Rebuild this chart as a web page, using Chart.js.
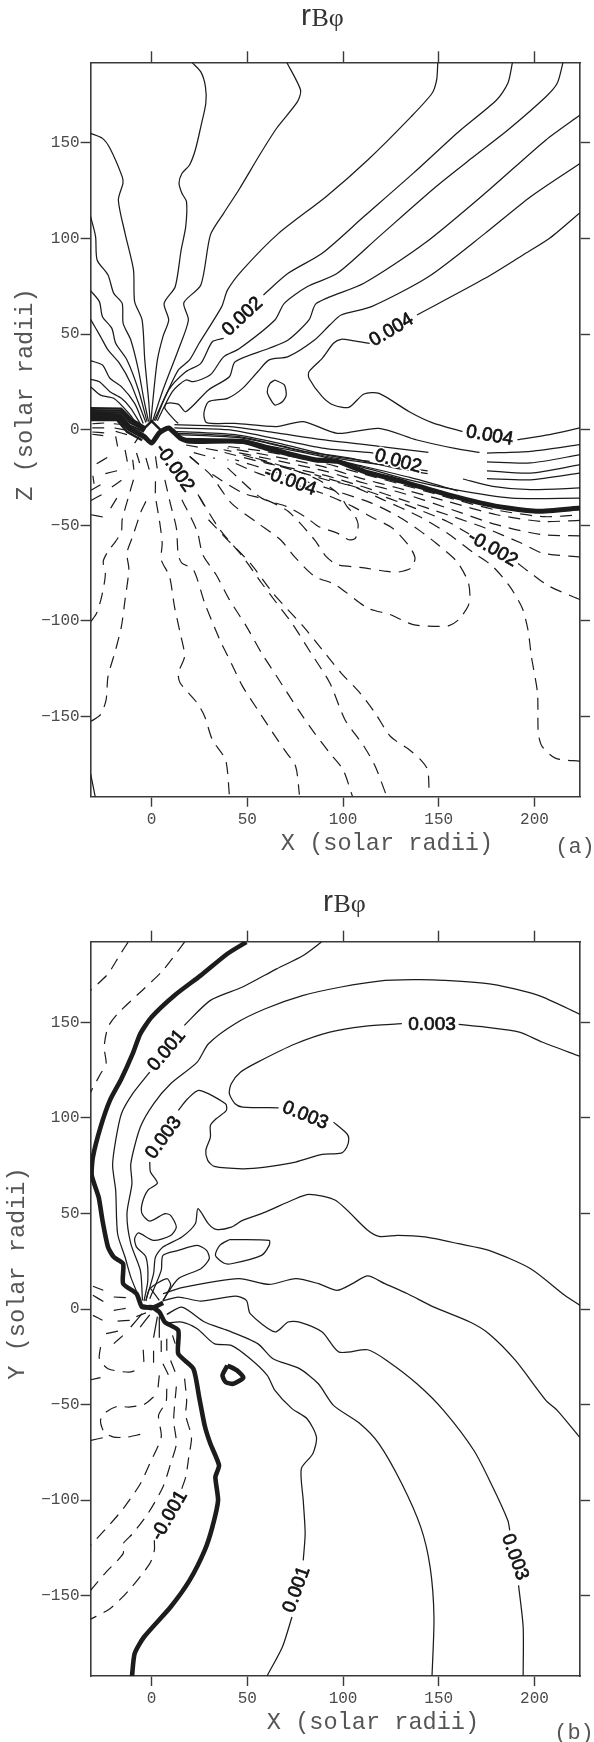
<!DOCTYPE html>
<html><head><meta charset="utf-8">
<style>html,body{margin:0;padding:0;background:#fff;width:594px;height:1742px;overflow:hidden}canvas{position:absolute;left:0}</style>
<script src="https://cdn.jsdelivr.net/npm/chart.js@4/dist/chart.umd.min.js"></script>
</head><body>
<canvas id="ca" width="594" height="880" style="top:0"></canvas>
<canvas id="cb" width="594" height="862" style="top:880px"></canvas>
<script>
/* ---------- panel (a): X-Z plane, contour lines in solar radii ---------- */
const a1=[[21.2,192],[25.7,187.2],[28.1,179.5],[28.3,170.8],[25.7,158.6],[22.8,146.3],[19.8,138.5],[15.8,134],[14.3,128.9],[15.8,123.7],[18.2,119.3],[17.8,106.2],[15.4,94],[12.3,74.8],[6.5,66.1],[8.9,57.4],[5.9,48.7],[3,36.5],[1,19],[-0.4,4.2]];
const a2=[[-31.9,155],[-25.7,152.4],[-21.8,147.2],[-15.4,132.4],[-15,128.9],[-17.4,120.2],[-13.9,102.7],[-9.5,83.6],[-8.9,67],[-5,57.4],[-3.6,36.5],[-1.6,15.5],[-0.8,4.2]];
const a3=[[-31.9,111.5],[-29.3,101],[-28.5,88.8],[-22.8,80.9],[-19.8,71.3],[-15.4,66.1],[-14.9,55.6],[-10.9,46.9],[-6.9,31.2],[-4,15.5],[-1.6,4.2]];
const a4=[[-31.9,72.7],[-27.3,67],[-25.7,59.1],[-20.8,53],[-18.8,45.2],[-12.9,36.5],[-6.9,20.8],[-2.4,4.2]];
const a5=[[-31.9,57.7],[-26.7,48.7],[-22.8,41.7],[-16.8,34.7],[-10.9,24.2],[-5.5,10.3],[-3,3.7]];
const a6=[[-31.9,36.1],[-25.7,33.8],[-21.8,26.9],[-15.8,22.5],[-8.9,13.8],[-4.4,3.3]];
const a7=[[-31.9,26.3],[-27.3,25.1],[-21.8,19.9],[-15.8,16.4],[-10.9,11.2],[-5.5,2.4]];
const a8=[[-31.9,22.5],[-26.7,18.1],[-19.8,16.4],[-11.9,8.5],[-6.9,1.9]];
const b1=[[70.7,192],[77.8,177.7],[76.2,171.6],[65.3,157.7],[56.4,143.7],[45.5,125.4],[37.6,113.2],[30.7,101.9],[25.7,75.7],[16.8,66.4],[19.2,57.4],[13.9,41.7],[5.9,20.8],[0.4,4.2]];
const b2=[[149.5,192],[148.9,183],[146.5,176],[135.6,163.8],[112.9,141.1],[91.1,121.9],[66.3,102.7],[47.5,83.6],[39.6,73],[36.6,64.4],[24.8,45.2],[19.8,36.5],[13.9,31.2],[7.9,19],[1.2,4.7]];
const b3u=[[188.5,192],[186.1,181.2],[180.2,172.5],[160.4,155.9],[136.6,134.1],[110.9,111.5],[89.1,92.3],[71.3,81.8],[58.4,70.5]];
const b3l=[[37.6,47.8],[31.7,46],[25.7,34.7],[17.8,30.3],[8.9,20.8],[2,4.7]];
const b4=[[214.9,192],[211.9,181.2],[206,174.2],[186.1,156.8],[168.3,142.9],[148.5,127.1],[118.8,101],[97,81.8],[81.2,74.8],[69.3,66.1],[64.4,57.4],[45.5,42.2],[37.6,38.1],[30.7,28.7],[21.8,25.1],[17.8,26],[10.9,20],[3,4.7]];
const b5=[[223.8,164.6],[206,151.6],[176.2,125.4],[142.6,97.5],[110.9,76.6],[86.1,66.1],[82.2,57.4],[71.3,46.9],[61.4,42.6],[43.6,35.6],[40.6,27.7],[29.7,20.8],[17.8,9.4],[13.9,13.4],[7.9,13.8],[6.9,11.2],[11.9,5.1],[13.9,3.3]];
const c0a=[[223.8,113.5],[207.9,100.1],[194,91.4],[174.2,79.2],[138.6,60]];
const c0b=[[113.9,45.2],[104.9,46.6],[99,47.3],[95,45.2],[89.1,37.3],[82.2,30.3],[82.2,26.9],[89.1,17.3],[95,12.9],[103,11.7],[110.9,18.7],[118.8,19],[134.6,9.4],[146.5,3.7],[162.4,-1]];
const c0c=[[191.1,-5.2],[207.9,-2.6],[223.8,0.9]];
const isle=[[64.4,26],[69.3,23.4],[70.3,18.1],[68.3,14.6],[64.4,12.9],[61.8,16.4],[60.4,19.9],[61.8,24.2],[64.4,26]];
const c1a=[[223.8,139.3],[198,121.9],[174.2,102.7],[144.6,80],[114.9,64.4],[99,60],[93.1,54.8],[85.1,46.9],[71.3,38.2],[61.4,36.5],[55.4,30.3],[47.5,21.6],[39.6,16.4],[29.7,14.6],[27.3,8.5],[28.7,3.7],[43.6,3.3],[65.3,1.6],[79.2,4.2],[97,-1.9],[118.8,0.7],[138.6,-5.4],[158.4,-9.8],[171.3,-11.9]];
const c1b=[[175.2,-12.2],[198,-11.3],[223.8,-7.8]];
const c2a=[[11.9,2.6],[39.6,1.7],[63.4,-1.4],[89.1,-5.2],[118.8,-8.7],[144.6,-11.9]];
const c2b=[[175.2,-16.9],[198,-17.4],[223.8,-13.1]];
const c3a=[[11.9,0.9],[39.6,0],[63.4,-4.4],[89.1,-9.6],[115.8,-12.2]];
const c3b=[[175.2,-21.5],[198,-22.7],[223.8,-18.3]];
const c4a=[[11.9,-0.9],[43.6,-2.6],[69.3,-7.8],[95,-14],[113.9,-16.6]];
const c4b=[[175.2,-25.6],[198,-26.2],[223.8,-22.7]];
const c4c=[[12,-1.8],[45,-3.5],[72,-9.5],[96,-14.9],[125,-19],[144.2,-21.5]];
const c5a=[[13.9,-2.6],[47.5,-4.4],[79.2,-11.3],[103,-14.8],[126.7,-20],[144.2,-23]];
const c5b=[[162.6,-25.8],[178.2,-29.6],[198,-31.4],[223.8,-30.5]];
const c6=[[15.8,-4.4],[51.5,-6.1],[79.2,-14],[105,-18.3],[130.7,-25.3],[158.4,-31.4],[188.1,-35.8],[223.8,-35.8]];
const c6b=[[25,-5],[60,-8.5],[85,-13.2],[110,-19],[135,-25],[160,-32]];
const band1=[[-31.9,11.3],[-16,11],[-10.5,5.5],[-3,1]];
const band2=[[-31.9,10.2],[-15.5,10],[-10.5,4.5],[-3.2,0.4]];
const band3=[[-31.9,9.2],[-16,9],[-11,3.5],[-3.5,-0.2]];
const band4=[[-31.9,8.2],[-16.5,8],[-11.5,2.2],[-4,-1]];
const band5=[[-31.9,6],[-17.5,6],[-12,0],[-4,-4.5]];
const band6=[[-31.9,5],[-18,5],[-13,-1],[-5,-5.5]];
const rim=[[-4.8,-0.2],[0,4.5],[5,-0.5]];
const zeroA=[[-31.9,7],[-17.8,7],[-11.9,0.9],[-4,-3.5],[0,-7],[4,-1.7],[8.9,0.9],[14.9,-4.4],[19.8,-6.1],[47.5,-6.1],[59.4,-9.6],[85.1,-15.7],[97,-16.6],[110.9,-21.8],[130.7,-27],[154.5,-34],[172.3,-38.4],[186.1,-41],[202,-42.7],[223.8,-41]];
const s1=[[-31,3.1],[-24.8,3.5]],s2=[[-31,0.9],[-24.8,0.9]],s3=[[-31,-1.2],[-24.8,-1.7]],s4=[[-31,-2.4],[-25.3,-3.1]];
const s5=[[-19.8,3.1],[-13.9,2.6]],s6=[[-19.4,0.9],[-12.9,-0.3]],s7=[[-18.8,-0.9],[-12.9,-2.6]],s8=[[-18.8,-3.5],[-17.8,-8.7]];
const s9=[[-13.9,-10.5],[-11.9,-20.9]],s10=[[-7.9,-12.2],[-6.3,-17.4]],s11=[[-9.9,-15.7],[-9.3,-20.9]],s12=[[-3,-14.8],[-1,-21.8]],s13=[[2,-14],[3,-20.9]],s14=[[-8.9,-7],[-5.9,-2.6]];
const s15=[[-28.7,-17.8],[-22.8,-14.3]],s16=[[-24.2,-23],[-17.4,-21.3]],s17=[[-30.7,-24.1],[-30.1,-28.3]],s18=[[-31.7,-31.7],[-26.7,-28.8]],s19=[[-31.7,-37],[-26.1,-34]],s20=[[-31.7,-44.5],[-25.3,-45.7]];
const s21=[[-20.8,-30],[-15.8,-26.5]],s22=[[-21.4,-41],[-18.2,-35.8]],s23=[[20,-14],[24.8,-18.3]],s24=[[18,-8],[35,-11]],s25=[[22,-12],[33,-15]];
const f1=[[-9.5,-26.2],[-12.3,-35.8],[-15.4,-47.1],[-15.8,-53.2],[-18.8,-58.4],[-22.8,-63.7],[-25.3,-68.9],[-24.2,-75.9],[-26.1,-87.2],[-28.7,-95.9],[-31.7,-100.3]];
const f2=[[-3,-37.5],[-5.5,-42.7],[-9.9,-55.8],[-12.9,-64.5],[-11.9,-73.2],[-13.9,-88.9],[-15.8,-102.9],[-18.8,-115.1],[-22.8,-129.1],[-23.8,-141.3],[-26.7,-149.1],[-31.7,-152.6]];
const f3=[[2,-27],[2,-34.9],[4,-47.1],[5.5,-59.3],[5,-68],[9.3,-76.7],[11.9,-92.4],[14.9,-106.4],[17.2,-118.6],[13.9,-127.3],[14.9,-132.5],[23.8,-143],[27.7,-150],[31.7,-162.2],[38.6,-172.7],[40.6,-191]];
const f4=[[6.9,-26.2],[9.9,-39.2],[12.9,-51.4],[13.9,-65.4],[15.8,-69.8],[21.8,-73.2],[27.7,-90.7],[35.6,-109.9],[41.6,-122.1],[47.5,-134.3],[55.4,-146.5],[63.4,-158.7],[69.3,-167.4],[75.2,-176.1],[77.2,-190.9]];
const f5=[[15.8,-36.6],[23.8,-53.2],[26.7,-65.4],[33.7,-75.9],[40.6,-88.9],[49.5,-102.9],[57.4,-116.8],[65.3,-129],[77.2,-147.4],[85.1,-158.7],[93.1,-169.2],[100,-177.9],[104.9,-191.8]];
const f6=[[24.8,-34.9],[35.6,-52.3],[47.5,-66.3],[57.4,-80.2],[65.3,-90.7],[73.3,-101.2],[83.2,-116.8],[93.1,-132.5],[101,-151.7],[110.9,-165.6],[116.8,-176.1],[122.8,-191.8]];
const f7=[[29.7,-47.1],[39.6,-57.6],[51.5,-69.8],[63.4,-85.5],[79.2,-102.9],[89.1,-115.1],[99,-127.3],[108.9,-137.8],[116.8,-148.3],[124.8,-160.5],[134.6,-167.4],[140.6,-172.7],[144.2,-177.9],[145,-191]];
const f8=[[13.9,-15.7],[19.8,-26.2],[27.7,-40.1]];
const g1=[[19.8,-14],[30.7,-23.5],[41.6,-38.4],[55.4,-48.8],[67.3,-57.6],[75.2,-67.1],[85.1,-76.7],[96,-81.1],[112.9,-93.3],[124.8,-96.8],[136.6,-102],[148.5,-102.9],[155.4,-102.5],[160.4,-99.4],[165.3,-92.4],[166.3,-87.2],[165.3,-79.4],[159.4,-68.9],[148.5,-59.3],[140.6,-53.2],[128.7,-45.3],[114.9,-38.4],[97,-32.3],[83.2,-27.9],[63.4,-21.8],[43.6,-15.7]];
const g2=[[31.7,-23.5],[47.5,-33.1],[59.4,-36.6],[71.3,-42.7],[85.1,-57.6],[91.1,-66.3],[97,-70.6],[108.9,-72],[122.8,-74.1],[128.7,-74.5],[135.6,-72.4],[137.6,-67.1],[134.6,-61],[125.7,-51.4],[115.8,-46.2],[104.9,-40.1],[91.1,-34],[75.2,-28.8],[55.4,-22.7],[39.6,-15.7]];
const g3=[[39.6,-20],[57.4,-35.8],[70.3,-40.1],[81.2,-46.2],[87.1,-50.6],[97,-54.1],[103,-57.6],[106.5,-56.7],[107.9,-49.7],[105.9,-44.5],[102,-40.1],[98,-34],[87.1,-26.2],[71.3,-20],[51.5,-14]];
const h0=[[40,-8.8],[60,-11.5],[90,-17.5],[110,-23],[130,-28.5],[155,-35.5],[180,-42],[205,-45.5],[223.8,-44.5]];
const h1=[[223.8,-47.4],[204,-48],[180.2,-44.5],[154.5,-37.5],[128.7,-30.5],[108.9,-25.3],[89.1,-19.2],[59.4,-13.1],[39.6,-9.6]];
const h2=[[223.8,-55.5],[204,-54.9],[180.2,-49.7],[154.5,-41],[130.7,-33.1],[110.9,-27.9],[91.1,-21.8],[63.4,-15.7],[37.6,-10.5]];
const h3=[[223.8,-66.6],[204,-64.5],[193,-59.3],[174.2,-51.4],[154.5,-44.5],[130.7,-36.6],[110.9,-30],[89.1,-23.5],[59.4,-17.4],[35.6,-11.3]];
const h4r=[[223.8,-88.9],[207.9,-82],[198,-75],[191.1,-69.8]];
const h4l=[[166.3,-54.9],[154.5,-48],[132.7,-39.2],[115.8,-33.1],[97,-27],[85.1,-23.5]];
const h5=[[223.8,-173.5],[210.9,-171.8],[204,-165.7],[202,-158.7],[201.6,-137.8],[198.4,-118.6],[196.6,-104.6],[193.6,-93.3],[187.1,-82],[178.2,-71.5],[168.3,-64.5],[154.4,-54.1],[139.6,-45.3],[120.8,-36.6],[104.9,-29.6],[91.1,-26.2],[67.3,-19.2],[47.5,-13.1]];
const corner=[[-31.9,-180],[-29.5,-192]];

/* ---------- panel (b): X-Y plane ---------- */
const zeroB=[[49.5,192],[39.6,185.9],[25.7,174.6],[11.9,164.1],[0,152.8],[-5.9,144.1],[-9.9,133.6],[-15.8,120.5],[-21.8,109.2],[-26.7,95.2],[-30.7,79.5],[-31.3,69.9],[-27.7,58.6],[-25.7,46.4],[-22.8,32.4],[-19.8,27.2],[-14.9,23.7],[-14.9,13.3],[-7.9,8],[-5,1],[0,1],[4,-1.6],[6.9,-6.8],[13.9,-11.2],[13.9,-23.4],[21.8,-31.2],[24.8,-46],[27.7,-60.9],[30.7,-70.5],[35.2,-81.8],[33.3,-87.9],[34.7,-100.1],[31.7,-114.1],[27.7,-126.3],[19.8,-142],[9.9,-155.9],[-4,-171.6],[-8.9,-180.3],[-10.3,-192.5]];
const zeroB2=[[-5,1.5],[0,0.5],[6,3.2]];
const ring=[[39.6,-29.5],[44.6,-32.1],[47.9,-35.9],[42.6,-39.1],[38.6,-38.2],[37,-34.7],[39.6,-29.5]];
const p1a=[[88.7,192],[79.2,185],[65.3,178],[47.5,168.5],[30.7,161.5],[17,148.4]];
const p1b=[[-1,124],[-9.9,112.7],[-15.8,102.2],[-18.8,88.2],[-20.4,75.2],[-18.8,62.1],[-17.8,39.4],[-13.9,27.2],[-10.9,16.7],[-5.9,4.5]];
const p2=[[223.8,154.2],[202,164.1],[178.2,169.9],[152.5,172],[136.6,172.3],[118.8,171.6],[99,168.5],[79.2,164.1],[59.4,157.1],[43.6,149.3],[29.7,138.8],[23.8,129.2],[9.9,117.9],[1,107.4],[-5.9,95.2],[-10.9,76],[-10.3,65.6],[-12.9,49.9],[-10.9,34.2],[-5.9,20.2],[-4.8,4.5]];
const p3a=[[223.8,132.2],[204,139.7],[192.1,144.9],[174.3,147.5],[160.4,148.9]];
const p3b=[[130.7,149.3],[110.9,147.9],[93.1,144.9],[75.2,138.8],[55.4,129.2],[46.5,124],[41.6,117.9],[40.6,112.7],[43.6,107.4],[47.5,105.7],[66.3,105.3]];
const p3c=[[95,97.8],[102,91.7],[103,89.1],[102,84.8],[99,81.6],[89.1,80.9],[75.2,76.9],[59.4,74.3],[47.5,73.4],[32.7,74.6],[29.3,77.8],[28.3,83],[30.7,90],[30.7,96.1],[33.7,99.6],[39,103.9],[38.6,107.4],[24.8,114.4],[18.8,110],[13.9,103.9]];
const p3d=[[-1,76.9],[-0.6,71.7],[3,65.9],[-2,62.1],[-5,55.1],[-5,49.9],[-1,46],[6.9,49.9],[9.9,49],[12.9,42.9],[9.9,38.5],[1,35.9],[-6.9,39.8],[-8.9,36.8],[-7.9,32.4],[-3,27.2],[-2,15],[-4,4.2]];
const p4=[[223.8,1.9],[215.8,7.2],[198,21.1],[176.2,30.7],[160.4,34.2],[142.6,37.7],[128.7,38.5],[118.8,38],[112.9,41.2],[96,56.9],[82.2,60],[73.3,56.9],[59.4,50.7],[47.5,46.4],[41.6,42.9],[33.7,41.7],[29.7,44.6],[24.2,52.5],[22.8,44.6],[15.8,37.7],[5.9,32.4],[2,27.2],[1,18.5],[-3,4.5]];
const p5=[[5.9,4.5],[13.9,15.9],[25.7,21.1],[30.1,26.3],[28.7,30.7],[23.8,33.3],[13.9,30.7],[5.9,28.1],[5,20.2],[-1,5.4]];
const p6=[[40.6,36.3],[61.4,35.9],[61.4,33.3],[57.4,28.1],[41.6,23.7],[37.6,24.1],[33.3,28.1],[35.6,33.3],[40.6,36.3]];
const p7=[[-3,4.2],[-1,10.6],[7.9,15.9],[9.9,12.4],[5.9,4.2]];
const p7b=[[-0.4,10.6],[4,4.5]];
const p8=[[5.9,8],[15.8,11.2],[45.5,15.9],[61.4,12.9],[75.2,15.9],[87.1,13.3],[97,9.8],[104.9,13.3],[112.9,17.3],[121.8,13.3],[133.7,8],[147.5,1],[166.3,-6.8],[176.2,-12.9],[190.1,-26.9],[206,-47.8],[211.9,-53],[223.8,-67.3]];
const p9a=[[5.9,4.2],[13.9,6.3],[25.7,4.2],[43.6,6.8],[49.5,4.5],[51.5,-2.4],[64.4,-12],[71.3,-6.8],[77.2,-6.8],[89.1,-12],[97.9,-22.5],[112.9,-21.3],[122.8,-26.9],[138.6,-39.1],[152.5,-53],[168.3,-73.9],[178.2,-93.1],[186.1,-110.6],[187.1,-115.8]];
const p9b=[[191.7,-144.6],[194.1,-166.4],[194.1,-191.7]];
const p10=[[7.9,-2.8],[15.8,1],[27.7,-6.8],[39.6,-11.2],[55.4,-18.1],[63.4,-26],[77.2,-31.2],[87.1,-39.1],[95,-50.4],[108.9,-60],[118.8,-70.5],[130.7,-91.4],[140.6,-114.1],[145.5,-135],[147.5,-161.1],[146.5,-191.7]];
const p11a=[[7.9,-7.3],[15.8,-6.8],[23.8,-10.3],[32.7,-18.1],[41.6,-19],[51.5,-26],[60.4,-34.7],[64.4,-42.6],[73.3,-52.1],[81.2,-57.4],[86.1,-67],[84.2,-75.7],[78.2,-83.5],[79.2,-100.1],[80.2,-117.5],[79.2,-131.5]];
const p11b=[[73.3,-161.1],[68.3,-176.8],[60.4,-191.7]];
const fine1=[[-10.9,-9.4],[-5,-2.4]],fine2=[[1,-15],[3,-4]],fine3=[[4,-15],[4,-4]],fine4=[[-6,-9.5],[-1,-3]],fine5=[[-8,-4],[-3,-2]];
const d1=[[-12.3,192],[-16.8,185],[-22.8,175.4],[-31.9,166.7]];
const d2=[[17.2,192],[5.9,177.2],[-4,167.6],[-17.8,154.5],[-22.8,147.5],[-24.8,137.1],[-23.8,128.4],[-26.7,123.1],[-31.9,113.5]];
const t1=[[-30.7,11.9],[-25.3,9.8]],t2=[[-30.7,7.2],[-24.8,3.7]],t3=[[-19.8,6.3],[-12.9,5.9]],t4=[[-19.8,-0.7],[-12.9,0.5]],t5=[[-30.7,-3.3],[-25.7,-5.9]];
const t6=[[-17.8,-6.3],[-10.9,-5.9]],t7=[[-23.8,-12.9],[-17.4,-11.5]],t8=[[-19.8,-18.1],[-14.9,-13.8]],t9=[[-31.7,-37],[-26.7,-35.9]],t10=[[-31.7,-68.7],[-25.3,-67.3]];
const t11=[[-4.4,-21.3],[-4,-28.6]],t12=[[1,-21.8],[1,-28.6]],t13=[[5,-16.4],[5,-22.5]],t14=[[7.9,-15.5],[7.9,-22.5]],t15=[[10.9,-13.8],[12.3,-18.1]],t16=[[5.9,-28.6],[8.9,-34.7]],t17=[[9.9,-26.9],[12.3,-33]],t18=[[4,-34.7],[3,-44.3]];
const lobe1=[[-26.7,-19.9],[-27.3,-26],[-22.8,-31.2],[-11.9,-33],[-5.9,-31.2]];
const lobe2=[[1,-46],[-4,-49.9],[-11.9,-51.3],[-17.8,-50.9],[-23.8,-53.9],[-26.7,-58.2],[-24.8,-64.4],[-19.8,-67],[-12.9,-67],[-5.9,-65.6]];
const r2a=[[17.2,-36.4],[18.3,-47.8],[17.8,-55.6],[20.8,-67],[19.4,-77.4],[17.8,-87.9],[15.4,-94.9]];
const r2b=[[1.4,-121],[1.4,-126.3],[-1,-133.2],[-11.9,-147.2],[-21.8,-156.8],[-31.9,-162.3]];
const r3=[[12.9,-40.5],[11.5,-58.2],[12.9,-70.5],[9.9,-80.9],[5.9,-93.1],[-2,-107.1],[-9.9,-117.5],[-14.9,-122.8],[-14.9,-128],[-23.8,-137.6],[-31.9,-147.2]];
const r4=[[7.9,-41.7],[7.5,-48.7],[3.6,-55.6],[5,-67],[-1,-80.9],[-5.9,-91.4],[-14.9,-104.5],[-23.8,-114.9],[-31.9,-123.6]];

/* ---------- contour labels: text, x, y, angle ---------- */
const labelsA=[['0.002',47.5,59.1,-43],['0.004',125.3,52.1,-31],['0.004',176.6,-3.1,10],['0.002',128.7,-16.6,15],['-0.004',72.3,-27,20],['-0.002',11.9,-20,55],['-0.002',178.2,-62.4,30]];
const labelsB=[['0.001',7.9,135.3,-50],['0.003',146.5,148.8,0],['0.003',80.2,101.3,22],['0.003',6.3,89.6,-54],['-0.001',9.3,-108,-60],['0.001',75.8,-146.8,-70],['0.003',189.7,-129.8,70]];

const xRange=[-31.9,223.8], yRange=[-192,192.2];
const tickStep=50;

const solidA=[a1,a2,a3,a4,a5,a6,a7,a8,b1,b2,b3u,b3l,b4,b5,c0a,c0b,c0c,isle,c1a,c1b,c2a,c2b,c3a,c3b,c4a,c4b,c4c,c5a,c5b,c6,c6b,corner];
const bandA=[band1,band2,band3,band4,band5,band6,rim];
const dashedA=[s1,s2,s3,s4,s5,s6,s7,s8,s9,s10,s11,s12,s13,s14,s15,s16,s17,s18,s19,s20,s21,s22,s23,s24,s25,f1,f2,f3,f4,f5,f6,f7,f8,g1,g2,g3,h0,h1,h2,h3,h4r,h4l,h5];
const solidB=[p1a,p1b,p2,p3a,p3b,p3c,p3d,p4,p5,p6,p7,p7b,p8,p9a,p9b,p10,p11a,p11b,fine1,fine2,fine3,fine4,fine5];
const dashedB=[d1,d2,t1,t2,t3,t4,t5,t6,t7,t8,t9,t10,t11,t12,t13,t14,t15,t16,t17,t18,lobe1,lobe2,r2a,r2b,r3,r4];

const INK='#1c1c1c', AXIS='#3a3a3a', TICKTXT='#4a4a4a';
function ds(pts,w,dash,t){return {data:pts.map(p=>({x:p[0],y:p[1]})),showLine:true,pointRadius:0,borderColor:INK,borderWidth:w,borderDash:dash||[],tension:t,borderCapStyle:'butt',borderJoinStyle:'round',fill:false};}
function build(o){
 const H=o.h;
 const tickFmt=v=>v<0?'\u2212'+Math.abs(v):String(v);
 const grid={drawOnChartArea:false,drawTicks:true,tickLength:10,tickWidth:1.4,color:AXIS};
 const border={color:AXIS,width:1.6};
 const sets=[...o.solid.map(p=>ds(p,1.25,null,.25)),...o.dashed.map(p=>ds(p,1.2,[12,8],.25)),...o.thick.map(p=>ds(p,o.tw,null,.2)),...(o.band||[]).map(p=>ds(p,2.4,null,0))];
 const lab={id:'lab',afterDraw(c){
  const x=c.ctx,sx=c.scales.x,sy=c.scales.y;
  x.save();x.textAlign='center';x.textBaseline='middle';
  x.font='19px "Liberation Sans"';x.lineJoin='round';
  for(const [t,vx,vy,ang] of o.labels){
   x.save();x.translate(sx.getPixelForValue(vx),sy.getPixelForValue(vy));x.rotate(ang*Math.PI/180);
   x.strokeStyle='#fff';x.lineWidth=4;x.strokeText(t,0,0);
   x.fillStyle='#111';x.strokeStyle='#111';x.lineWidth=.7;x.strokeText(t,0,0);x.fillText(t,0,0);
   x.restore();
  }
  /* headings */
  x.fillStyle='#333';x.textBaseline='middle';x.textAlign='left';
  x.font='30px "Liberation Sans"';x.fillText('r',o.tx,o.ty-1);
  x.font='26px "Liberation Serif"';x.fillText('B\u03c6',o.tx+10.5,o.ty+1);
  x.textAlign='center';x.fillStyle='#555';
  x.font='23.6px "Liberation Mono"';x.fillText(o.xTitle,o.xtx,o.xty);
  x.save();x.translate(o.ytx,o.yty);x.rotate(-Math.PI/2);x.fillText(o.yTitle,0,0);x.restore();
  x.font='22px "Liberation Mono"';x.fillText(o.tag,o.tagx,o.tagy);
  x.restore();
 }};
 new Chart(document.getElementById(o.id),{type:'scatter',data:{datasets:sets},plugins:[lab],options:{
  responsive:false,animation:false,layout:{padding:0},
  plugins:{legend:{display:false},tooltip:{enabled:false},title:{display:false}},
  scales:{
   x:{type:'linear',position:'bottom',min:xRange[0],max:xRange[1],grid,border,afterFit(s){s.height=H-o.bottom;},
      ticks:{stepSize:tickStep,includeBounds:false,autoSkip:false,maxRotation:0,padding:3,color:TICKTXT,font:{family:'"Liberation Mono"',size:16},callback:tickFmt}},
   x2:{type:'linear',position:'top',min:xRange[0],max:xRange[1],grid:{...grid,tickLength:11},border,afterFit(s){s.height=o.top;},
      ticks:{stepSize:tickStep,includeBounds:false,autoSkip:false,display:false}},
   y:{type:'linear',position:'left',min:yRange[0],max:yRange[1],grid,border,afterFit(s){s.width=90.6;},
      ticks:{stepSize:tickStep,includeBounds:false,autoSkip:false,padding:1,color:TICKTXT,font:{family:'"Liberation Mono"',size:16},callback:tickFmt}},
   y2:{type:'linear',position:'right',min:yRange[0],max:yRange[1],grid,border,afterFit(s){s.width=14;},
      ticks:{stepSize:tickStep,includeBounds:false,autoSkip:false,display:false}}
  }}});
}
build({id:'ca',h:880,top:62.3,bottom:796.7,solid:solidA,dashed:dashedA,thick:[zeroA],band:bandA,tw:5,labels:labelsA,
 tx:301,ty:18,xTitle:'X (solar radii)',xtx:387,xty:844,yTitle:'Z (solar radii)',ytx:25.5,yty:394.5,tag:'(a)',tagx:575,tagy:847});
build({id:'cb',h:862,top:61.7,bottom:796,solid:solidB,dashed:dashedB,thick:[zeroB,zeroB2,ring],tw:4.6,labels:labelsB,
 tx:323,ty:24,xTitle:'X (solar radii)',xtx:373,xty:843,yTitle:'Y (solar radii)',ytx:17.5,yty:393.5,tag:'(b)',tagx:574,tagy:853});
</script>
</body></html>
